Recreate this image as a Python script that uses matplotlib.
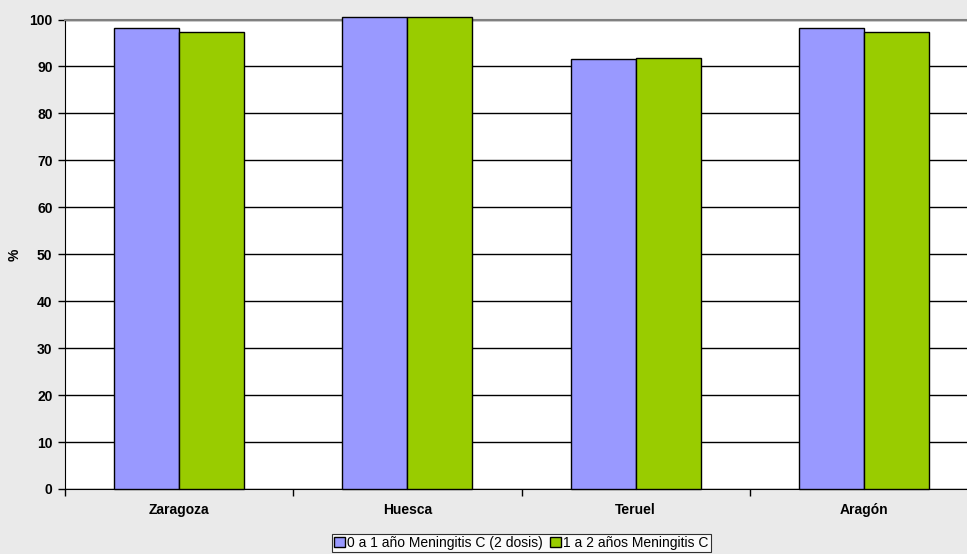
import numpy as np
import matplotlib
matplotlib.use('Agg')
import matplotlib.pyplot as plt

plt.rcParams['font.family'] = ['Liberation Sans', 'DejaVu Sans']

categories = ['Zaragoza', 'Huesca', 'Teruel', 'Aragón']
dosis_0a1 = [98.2, 100.5, 91.6, 98.1]
dosis_1a2 = [97.3, 100.5, 91.8, 97.3]
series_labels = ['0 a 1 año Meningitis C (2 dosis)', '1 a 2 años Meningitis C']
y_ticks = [0, 10, 20, 30, 40, 50, 60, 70, 80, 90, 100]

W, H = 967, 554
fig = plt.figure(figsize=(W / 100, H / 100), dpi=100, facecolor='#eaeaea')
ax = fig.add_axes([65 / W, (H - 489) / H, (978 - 65) / W, (489 - 19.5) / H])
ax.set_facecolor('white')

x = np.arange(len(categories))
bw = 0.285
b1 = ax.bar(x - bw / 2, dosis_0a1, bw, color='#9999ff', edgecolor='black',
            linewidth=1, label=series_labels[0], zorder=3, clip_on=False)
b2 = ax.bar(x + bw / 2, dosis_1a2, bw, color='#99cc00', edgecolor='black',
            linewidth=1, label=series_labels[1], zorder=3, clip_on=False)

ax.set_xlim(-0.5, len(categories) - 0.5)
ax.set_ylim(0, 100)
ax.set_yticks(y_ticks)
ax.yaxis.grid(True, color='black', linewidth=1)
ax.set_axisbelow(True)

ax.set_xticks(np.arange(-0.5, len(categories), 1.0))
ax.set_xticklabels([])
ax.set_xticks(x, minor=True)
ax.set_xticklabels(categories, minor=True, fontweight='bold', fontsize=10)
ax.tick_params(axis='x', which='minor', length=0, pad=10)
ax.tick_params(axis='x', which='major', length=5, width=1, direction='out')
ax.tick_params(axis='y', length=5, width=1, direction='out', labelsize=10, pad=4)
for lab in ax.get_yticklabels():
    lab.set_fontweight('bold')

for side in ['top', 'right']:
    ax.spines[side].set_color('#808080')
    ax.spines[side].set_linewidth(1.5)
ax.spines['left'].set_color('black')
ax.spines['bottom'].set_color('black')

fig.text(15 / W, 1 - 255 / H, '%', rotation=90, fontweight='bold', fontsize=10,
         ha='center', va='center')

leg = fig.legend(handles=[b1, b2], loc='center', bbox_to_anchor=(521.5 / W, 1 - 543 / H),
                 ncol=2, fontsize=10, frameon=True, fancybox=False, edgecolor='black',
                 borderpad=0.15, handlelength=0.75, handleheight=0.75, handletextpad=0.2,
                 columnspacing=0.5, borderaxespad=0)
leg.get_frame().set_linewidth(0.8)

plt.savefig('out.png', dpi=100, facecolor=fig.get_facecolor())
